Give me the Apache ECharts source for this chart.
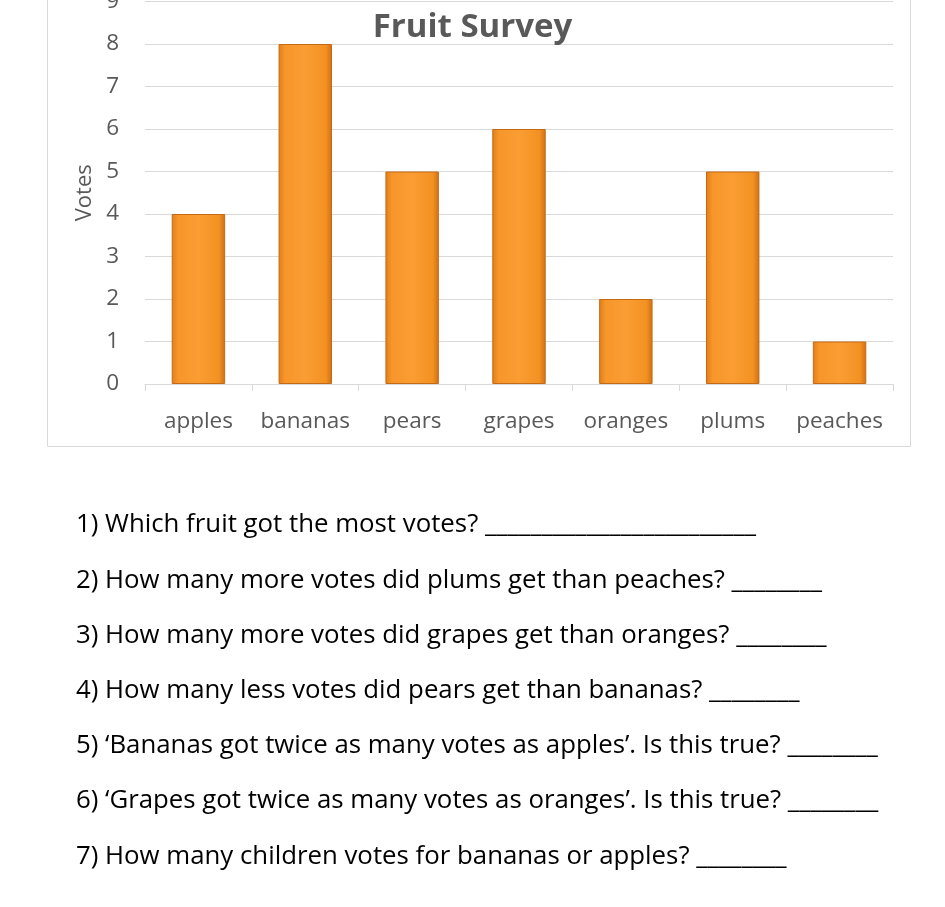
<!DOCTYPE html>
<html>
<head>
<meta charset="utf-8">
<script src="https://cdn.jsdelivr.net/npm/echarts@6/dist/echarts.min.js"></script>
<style>
  html, body { margin: 0; padding: 0; background: #fff; }
  #chart { width: 945px; height: 907px; }
</style>
</head>
<body>
<div id="chart"></div>
<script>
// survey data
const fruits = ["apples", "bananas", "pears", "grapes", "oranges", "plums", "peaches"];
const votes = [4, 8, 5, 6, 2, 5, 1];

// worksheet questions under the chart, with the length of each answer blank
const questions = [
  "1) Which fruit got the most votes?",
  "2) How many more votes did plums get than peaches?",
  "3) How many more votes did grapes get than oranges?",
  "4) How many less votes did pears get than bananas?",
  "5) \u2018Bananas got twice as many votes as apples\u2019. Is this true?",
  "6) \u2018Grapes got twice as many votes as oranges\u2019. Is this true?",
  "7) How many children votes for bananas or apples?"
];
const blanks = [24, 8, 8, 8, 8, 8, 8];

const font = "'Open Sans', sans-serif";
const chart = echarts.init(document.getElementById("chart"));

const questionTexts = questions.map((q, i) => ({
  type: "text",
  x: 76,
  y: 525 + i * 55.2,
  style: {
    text: q + " " + "_".repeat(blanks[i]),
    fill: "#000",
    font: "25.8px " + font,
    verticalAlign: "middle"
  }
}));

chart.setOption({
  animation: false,
  title: {
    text: "Fruit Survey",
    left: "center",
    top: 6,
    textStyle: { color: "#595959", fontSize: 33, fontWeight: "bold", fontFamily: font }
  },
  grid: { left: 145, right: 52, top: 1.5, bottom: 523, containLabel: false, outerBoundsMode: "none" },
  xAxis: {
    type: "category",
    data: fruits,
    axisLine: { lineStyle: { color: "#d9d9d9", width: 1 } },
    axisTick: { show: true, length: 7, lineStyle: { color: "#d9d9d9" } },
    axisLabel: { color: "#595959", fontSize: 22.5, fontFamily: font, margin: 26, interval: 0 }
  },
  yAxis: {
    type: "value",
    min: 0,
    max: 9,
    interval: 1,
    name: "Votes",
    nameLocation: "middle",
    nameGap: 42,
    nameTextStyle: { color: "#595959", fontSize: 22, fontFamily: font },
    axisLine: { show: false },
    axisTick: { show: false },
    axisLabel: { color: "#595959", fontSize: 22.5, fontFamily: font, margin: 26 },
    splitLine: { lineStyle: { color: "#d9d9d9", width: 1 } }
  },
  series: [{
    type: "bar",
    data: votes,
    barWidth: "50%",
    itemStyle: {
      borderColor: "#c46a14",
      borderWidth: 1,
      color: new echarts.graphic.LinearGradient(0, 0, 1, 0, [
        { offset: 0, color: "#e07d1a" },
        { offset: 0.12, color: "#f7962a" },
        { offset: 0.5, color: "#fa9d33" },
        { offset: 0.88, color: "#f39222" },
        { offset: 1, color: "#cf6f17" }
      ])
    }
  }],
  graphic: [
    {
      type: "rect",
      shape: { x: 47.5, y: -10, width: 863, height: 456.5 },
      style: { fill: "none", stroke: "#d9d9d9", lineWidth: 1 },
      silent: true
    }
  ].concat(questionTexts)
});
</script>
</body>
</html>
